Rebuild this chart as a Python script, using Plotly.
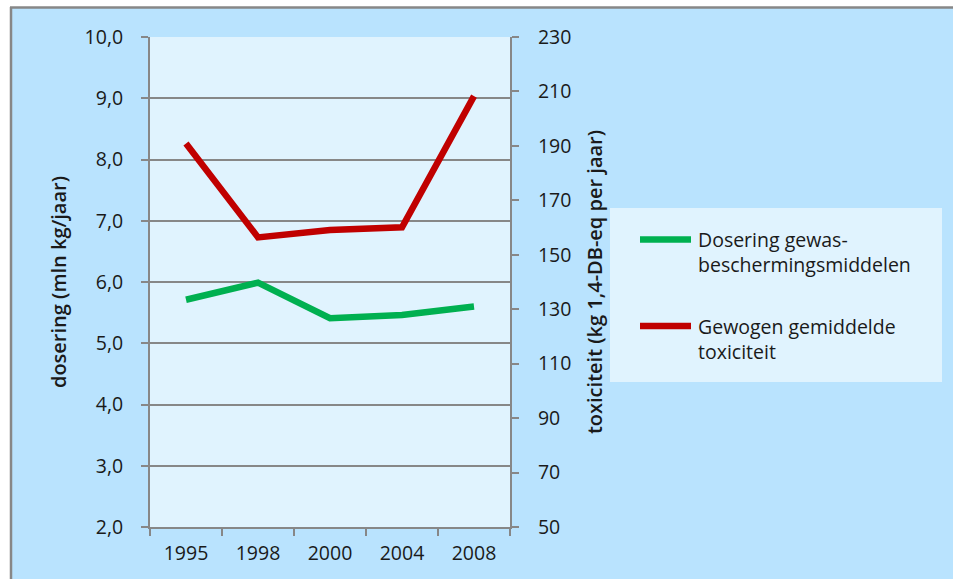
import plotly.graph_objects as go

years = ["1995", "1998", "2000", "2004", "2008"]
dosering = [5.71, 5.99, 5.41, 5.46, 5.60]
toxiciteit = [190.9, 156.4, 159.1, 160.1, 208.3]
series_names = ["Dosering gewas-<br>beschermingsmiddelen", "Gewogen gemiddelde<br>toxiciteit"]
series_colors = ["#00B050", "#C00000"]
left_title = "dosering (mln kg/jaar)"
right_title = "toxiciteit (kg 1,4-DB-eq per jaar)"

W, H = 953, 579
L, R, T, B = 150, 510, 37, 527  # plot area pixel box


def px(x):
    return (x - L) / (R - L)


def py(y):
    return (B - y) / (B - T)


FONT = "Open Sans"
GRAY = "#878787"
fig = go.Figure()
fig.add_trace(go.Scatter(x=years, y=dosering, mode="lines", name=series_names[0],
                         line=dict(color=series_colors[0], width=6.5), yaxis="y"))
fig.add_trace(go.Scatter(x=years, y=toxiciteit, mode="lines", name=series_names[1],
                         line=dict(color=series_colors[1], width=6.5), yaxis="y2"))

shapes = [
    # white outer margin strips and grey frame
    dict(type="rect", xref="paper", yref="paper", x0=px(0), x1=px(W), y0=py(7.5), y1=py(0),
         fillcolor="white", line_width=0, layer="above"),
    dict(type="rect", xref="paper", yref="paper", x0=px(0), x1=px(10.5), y0=py(H), y1=py(0),
         fillcolor="white", line_width=0, layer="above"),
    dict(type="line", xref="paper", yref="paper", x0=px(10), x1=px(W), y0=py(7.5), y1=py(7.5),
         line=dict(color=GRAY, width=2.5), layer="above"),
    dict(type="line", xref="paper", yref="paper", x0=px(11), x1=px(11), y0=py(7), y1=py(H),
         line=dict(color=GRAY, width=2.5), layer="above"),
    # legend box
    dict(type="rect", xref="paper", yref="paper", x0=px(610), x1=px(942), y0=py(382), y1=py(208),
         fillcolor="#E0F3FE", line_width=0, layer="above"),
]
annotations = []
legend_y = [239.5, 326]
text_y = [252, 339]
for i in range(2):
    shapes.append(dict(type="line", xref="paper", yref="paper", x0=px(640), x1=px(691),
                       y0=py(legend_y[i]), y1=py(legend_y[i]),
                       line=dict(color=series_colors[i], width=6.5), layer="above"))
    annotations.append(dict(xref="paper", yref="paper", x=px(696), y=py(text_y[i]),
                            xanchor="left", yanchor="middle", align="left", showarrow=False,
                            text=series_names[i],
                            font=dict(family=FONT, size=19.5, color="#1a1a1a")))

TICKFONT = dict(size=19.5, color="#1a1a1a")
fig.update_layout(
    width=W, height=H,
    margin=dict(l=L, r=W - R, t=T, b=H - B, pad=0),
    paper_bgcolor="#B9E3FE",
    plot_bgcolor="#E0F3FE",
    separators=",.",
    showlegend=False,
    font=dict(family=FONT, size=18, color="#1a1a1a"),
    xaxis=dict(type="category", range=[-0.5, 4.5], tickson="boundaries", ticks="outside",
               ticklen=7, tickcolor=GRAY, tickwidth=2, showline=True, linecolor=GRAY,
               linewidth=2, showgrid=False, ticklabelstandoff=8, tickfont=TICKFONT),
    yaxis=dict(range=[2, 10], dtick=1, tickformat=".1f", ticks="outside", ticklen=7,
               tickcolor=GRAY, tickwidth=2, showline=True, linecolor=GRAY, linewidth=2,
               showgrid=True, gridcolor=GRAY, gridwidth=1.5, zeroline=False,
               ticklabelstandoff=14, tickfont=TICKFONT,
               title=dict(text=left_title, standoff=13,
                          font=dict(size=20, weight=600, color="#1a1a1a"))),
    yaxis2=dict(range=[50, 230], tick0=50, dtick=20, overlaying="y", side="right",
                ticks="outside", ticklen=7, tickcolor=GRAY, tickwidth=2, showline=True,
                linecolor=GRAY, linewidth=2, showgrid=False, zeroline=False,
                ticklabelstandoff=15, tickfont=TICKFONT,
                title=dict(text=right_title, standoff=18,
                           font=dict(size=20, weight=600, color="#1a1a1a"))),
    shapes=shapes,
    annotations=annotations,
)

fig.write_html("out.html")
